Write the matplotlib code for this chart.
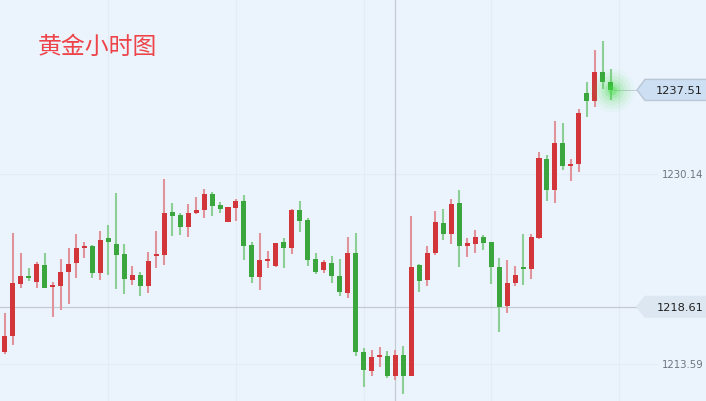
import numpy as np
import matplotlib
matplotlib.use("Agg")
import matplotlib.pyplot as plt
from matplotlib.patches import Polygon
from matplotlib.transforms import blended_transform_factory

# ---------- DATA ------------
title = "黄金小时图"
opens = [1214.63, 1216.06, 1220.59, 1221.31, 1220.74, 1222.25, 1220.30, 1220.39, 1221.61, 1222.42,
         1223.73, 1223.93, 1221.52, 1224.63, 1224.10, 1223.23, 1220.94, 1221.40, 1220.39, 1223.00,
         1223.12, 1226.84, 1226.63, 1225.58, 1226.75, 1227.01, 1228.41, 1227.45, 1225.97, 1227.19,
         1227.85, 1224.02, 1221.17, 1222.57, 1222.13, 1224.22, 1223.70, 1227.07, 1226.14, 1222.74,
         1221.78, 1222.45, 1221.31, 1219.80, 1223.32, 1214.69, 1212.98, 1214.20, 1214.34, 1212.59,
         1214.43, 1212.54, 1222.27, 1220.94, 1223.29, 1225.88, 1224.92, 1227.62, 1223.88, 1224.05,
         1224.66, 1224.22, 1222.10, 1218.64, 1220.65, 1222.10, 1221.90, 1224.57, 1231.46, 1228.81,
         1232.91, 1230.85, 1231.02, 1237.21, 1236.54, 1239.04, 1238.17]
highs = [1218.06, 1225.04, 1223.29, 1221.98, 1222.48, 1223.29, 1220.74, 1222.77, 1223.73, 1224.95,
         1224.22, 1223.99, 1225.21, 1225.73, 1228.52, 1224.08, 1222.13, 1221.61, 1223.38, 1225.21,
         1229.74, 1227.65, 1226.75, 1227.56, 1228.17, 1228.87, 1228.61, 1227.74, 1227.30, 1228.00,
         1228.35, 1224.25, 1225.06, 1223.47, 1224.16, 1224.60, 1227.10, 1227.82, 1226.34, 1223.29,
         1222.68, 1223.00, 1222.77, 1224.69, 1225.04, 1214.98, 1214.81, 1215.07, 1214.72, 1214.81,
         1215.18, 1226.52, 1222.33, 1223.90, 1226.95, 1227.13, 1228.00, 1228.78, 1224.60, 1225.30,
         1224.86, 1224.25, 1222.86, 1222.71, 1222.18, 1224.95, 1224.95, 1232.07, 1231.84, 1234.80,
         1234.62, 1231.49, 1235.85, 1238.23, 1241.02, 1241.77, 1239.33]
lows = [1214.50, 1215.30, 1220.27, 1220.88, 1220.27, 1220.21, 1217.74, 1218.35, 1218.85, 1221.14,
        1222.88, 1221.09, 1220.96, 1221.40, 1220.18, 1219.72, 1220.50, 1219.57, 1219.83, 1222.01,
        1222.27, 1224.80, 1224.89, 1224.71, 1226.69, 1226.37, 1226.54, 1226.80, 1225.97, 1226.08,
        1222.71, 1220.70, 1220.09, 1221.98, 1222.10, 1221.98, 1223.23, 1225.10, 1222.16, 1221.46,
        1221.52, 1220.68, 1219.54, 1219.34, 1214.34, 1211.64, 1212.59, 1213.38, 1212.42, 1212.19,
        1210.97, 1212.54, 1219.92, 1220.44, 1223.14, 1224.42, 1224.10, 1222.10, 1222.97, 1223.32,
        1223.58, 1220.62, 1216.43, 1218.09, 1220.44, 1220.53, 1221.02, 1224.51, 1227.82, 1227.68,
        1230.55, 1229.59, 1230.38, 1235.15, 1236.05, 1237.59, 1236.66]
closes = [1216.08, 1220.70, 1221.31, 1221.09, 1222.36, 1220.27, 1220.53, 1221.66, 1222.36, 1223.75,
          1223.93, 1221.52, 1224.45, 1224.22, 1223.12, 1221.02, 1221.40, 1220.39, 1222.62, 1223.14,
          1226.80, 1226.54, 1225.58, 1226.75, 1227.01, 1228.41, 1227.36, 1227.10, 1227.28, 1227.85,
          1223.88, 1221.17, 1222.66, 1222.77, 1224.14, 1223.70, 1227.07, 1226.06, 1222.68, 1221.61,
          1222.48, 1221.26, 1219.87, 1223.32, 1214.63, 1213.09, 1214.25, 1214.37, 1212.59, 1214.43,
          1212.54, 1222.10, 1220.85, 1223.32, 1225.97, 1224.95, 1227.54, 1223.88, 1224.14, 1224.66,
          1224.14, 1222.04, 1218.56, 1220.70, 1221.40, 1221.87, 1224.66, 1231.55, 1228.81, 1232.86,
          1230.85, 1231.08, 1235.47, 1236.52, 1239.04, 1238.17, 1237.51]
grid_prices = [1230.14, 1213.59]
grid_idx = [13, 29, 45, 61, 77]
cross_idx = 49
last_price = 1237.51
cross_price = 1218.61
# ----------------------------

bg = "#ebf4fd"
up_body, up_wick = "#d2363b", "#e0939a"
dn_body, dn_wick = "#3aa63d", "#8ccf95"

fig = plt.figure(figsize=(7.06, 4.02), dpi=100, facecolor=bg)
ax = fig.add_axes([0, 0, 1, 1])
ax.set_facecolor(bg)
ax.set_xlim(-0.59, 87.94)
ax.set_ylim(1210.39, 1245.44)
ax.axis("off")

o = np.array(opens)
h = np.array(highs)
l = np.array(lows)
c = np.array(closes)
x = np.arange(len(o))
up = c >= o

# grid
for gx in grid_idx:
    ax.axvline(gx, color="#e2ecf6", lw=0.8, zorder=0)
for gp in grid_prices:
    ax.plot([-0.59, 81.8], [gp, gp], color="#e2ecf6", lw=0.8, zorder=0)
ax.axvline(cross_idx, color="#c5cad2", lw=0.9, zorder=1)
ax.plot([-0.59, 79.3], [cross_price, cross_price], color="#c5cad2", lw=0.9, zorder=1)
ax.plot([76, 79.3], [last_price, last_price], color="#c5cad2", lw=0.7, zorder=1)

# candles
ax.vlines(x[up], l[up], h[up], color=up_wick, lw=1.5, zorder=2)
ax.vlines(x[~up], l[~up], h[~up], color=dn_wick, lw=1.5, zorder=2)
bottom = np.minimum(o, c)
height = np.maximum(np.abs(c - o), 0.2)
ax.bar(x[up], height[up], bottom=bottom[up], width=0.63, color=up_body, lw=0, zorder=3)
ax.bar(x[~up], height[~up], bottom=bottom[~up], width=0.63, color=dn_body, lw=0, zorder=3)

# glow on the last candle
for s, a in [(1000, 0.04), (700, 0.06), (450, 0.08), (260, 0.11), (130, 0.16), (45, 0.32)]:
    ax.scatter([x[-1] + 0.15], [last_price], s=s, color="#3ee03e", alpha=a, lw=0, zorder=4)

# price tags on the right
tr = blended_transform_factory(ax.transAxes, ax.transData)
def tag(price, face, edge, hh):
    pts = [(0.9023, price), (0.9136, price + hh), (1.01, price + hh),
           (1.01, price - hh), (0.9136, price - hh)]
    ax.add_patch(Polygon(pts, closed=True, transform=tr, facecolor=face,
                         edgecolor=edge, lw=1.0, zorder=5))
    ax.text(0.996, price, f"{price:.2f}", transform=tr, ha="right", va="center",
            fontsize=8.2, color="#1f1f1f", zorder=6)

tag(last_price, "#cddff3", "#b9c6d6", 0.92)
tag(cross_price, "#dde7f1", "#dde7f1", 0.9)
for gp in grid_prices:
    ax.text(0.996, gp, f"{gp:.2f}", transform=tr, ha="right", va="center",
            fontsize=7.3, color="#6d7580")

fig.text(38 / 706, 1 - 47 / 402, title, fontsize=17.2, color="#ee4348",
         family=["Noto Sans CJK SC", "DejaVu Sans"], va="center", ha="left")

fig.savefig("out.png", dpi=100, facecolor=bg)
